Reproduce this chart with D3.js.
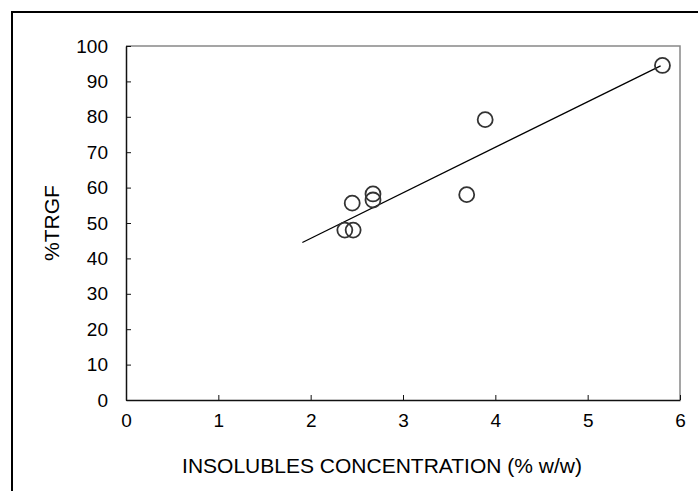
<!DOCTYPE html>
<html><head><meta charset="utf-8">
<script src="https://cdn.jsdelivr.net/npm/d3@7"></script>
<style>body{margin:0;background:#fff;} svg{display:block;font-family:"Liberation Sans",Arial,sans-serif;}</style>
</head><body>
<script>
const insolubles = [2.37, 2.46, 2.45, 2.675, 2.675, 3.69, 3.89, 5.81];
const trgf = [48.0, 48.0, 55.6, 58.2, 56.5, 58.0, 79.2, 94.5];
const trendX = [1.91, 5.79];
const trendY = [44.5, 94.4];
const xTicks = [0, 1, 2, 3, 4, 5, 6];
const yTicks = [0, 10, 20, 30, 40, 50, 60, 70, 80, 90, 100];
const xTitle = "INSOLUBLES CONCENTRATION (% w/w)";
const yTitle = "%TRGF";

const W = 698, H = 491;
const svg = d3.select("body").append("svg").attr("width", W).attr("height", H);
svg.append("rect").attr("x", 12).attr("y", 12).attr("width", 700).attr("height", 500)
  .attr("fill", "#fff").attr("stroke", "#000").attr("stroke-width", 2);

const x = d3.scaleLinear().domain([0, 6]).range([126, 680]);
const y = d3.scaleLinear().domain([0, 100]).range([400, 46]);

svg.append("path").attr("d", `M${x(0)},${y(100)}H${x(6)}V${y(0)}`)
  .attr("fill", "none").attr("stroke", "#888").attr("stroke-width", 1.5);

const xAxis = svg.append("g").attr("transform", `translate(0,${y(0)})`)
  .call(d3.axisBottom(x).tickValues(xTicks).tickFormat(d3.format("d")).tickSizeInner(-5).tickSizeOuter(0).tickPadding(14));
const yAxis = svg.append("g").attr("transform", `translate(${x(0)},0)`)
  .call(d3.axisLeft(y).tickValues(yTicks).tickFormat(d3.format("d")).tickSizeInner(-5).tickSizeOuter(0).tickPadding(18));
[xAxis, yAxis].forEach(g => {
  g.select(".domain").attr("stroke", "#111").attr("stroke-width", 1.5);
  g.selectAll(".tick line").attr("stroke", "#111");
  g.selectAll(".tick text").attr("font-size", 19).attr("fill", "#000")
    .style("font-family", '"Liberation Sans",Arial,sans-serif');
});
xAxis.selectAll(".tick text").attr("dy", "0.71em");

svg.append("text").attr("x", 382).attr("y", 473).attr("text-anchor", "middle")
  .attr("font-size", 21).attr("fill", "#000").text(xTitle);
svg.append("text").attr("transform", `translate(59,${y(50)}) rotate(-90)`).attr("text-anchor", "middle")
  .attr("font-size", 21).attr("fill", "#000").text(yTitle);

svg.append("line").attr("x1", x(trendX[0])).attr("y1", y(trendY[0]))
  .attr("x2", x(trendX[1])).attr("y2", y(trendY[1])).attr("stroke", "#000").attr("stroke-width", 1.3);

svg.selectAll("circle.pt").data(insolubles.map((v, i) => [v, trgf[i]])).enter().append("circle")
  .attr("class", "pt").attr("cx", d => x(d[0])).attr("cy", d => y(d[1])).attr("r", 7.5)
  .attr("fill", "none").attr("stroke", "#333").attr("stroke-width", 1.8);
</script>
</body></html>
